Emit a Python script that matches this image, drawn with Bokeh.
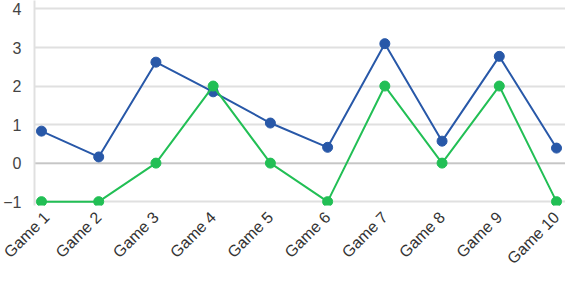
import math
from bokeh.plotting import figure
from bokeh.models import Range1d, FixedTicker
from bokeh.embed import file_html
from bokeh.resources import INLINE

games = ["Game 1", "Game 2", "Game 3", "Game 4", "Game 5",
         "Game 6", "Game 7", "Game 8", "Game 9", "Game 10"]
series_blue = [0.83, 0.16, 2.62, 1.85, 1.04, 0.41, 3.1, 0.57, 2.77, 0.39]
series_green = [-1, -1, 0, 2, 0, -1, 2, 0, 2, -1]
y_ticks = [-1, 0, 1, 2, 3, 4]

xs = list(range(1, len(games) + 1))

p = figure(width=565, height=282, output_backend="svg", toolbar_location=None,
           x_range=Range1d(0.878, 10.157), y_range=Range1d(-1.1, 4.22),
           min_border_left=34, min_border_right=0, min_border_top=0, min_border_bottom=77)
p.outline_line_color = None
p.background_fill_color = "white"

p.xgrid.grid_line_color = None
p.ygrid.ticker = FixedTicker(ticks=y_ticks)
p.ygrid.grid_line_color = "#e0e0e0"
p.ygrid.grid_line_width = 2

p.yaxis.ticker = FixedTicker(ticks=y_ticks)
p.yaxis.axis_line_color = "#e0e0e0"
p.yaxis.axis_line_width = 2
p.yaxis.major_tick_line_color = None
p.yaxis.minor_tick_line_color = None
p.yaxis.major_label_text_font = "Liberation Sans"
p.yaxis.major_label_text_font_size = "16px"
p.yaxis.major_label_text_color = "#444444"
p.yaxis.major_label_standoff = 7

p.xaxis.ticker = FixedTicker(ticks=xs)
p.xaxis.major_label_overrides = {i: g for i, g in zip(xs, games)}
p.xaxis.axis_line_color = None
p.xaxis.major_tick_line_color = None
p.xaxis.minor_tick_line_color = None
p.xaxis.major_label_orientation = math.pi / 4
p.xaxis.major_label_text_font = "Liberation Sans"
p.xaxis.major_label_text_font_size = "16px"
p.xaxis.major_label_text_color = "#333333"
p.xaxis.major_label_standoff = 3

# zero line
p.line([0.878, 10.157], [0, 0], line_color="#b5b5b5", line_width=1)

blue = "#2858a8"
green = "#22bf55"
p.line(xs, series_blue, line_color=blue, line_width=2)
p.scatter(xs, series_blue, size=10, fill_color=blue, line_color=blue)
p.line(xs, series_green, line_color=green, line_width=2)
p.scatter(xs, series_green, size=10, fill_color=green, line_color=green)

open("out.html", "w").write(file_html(p, INLINE))
